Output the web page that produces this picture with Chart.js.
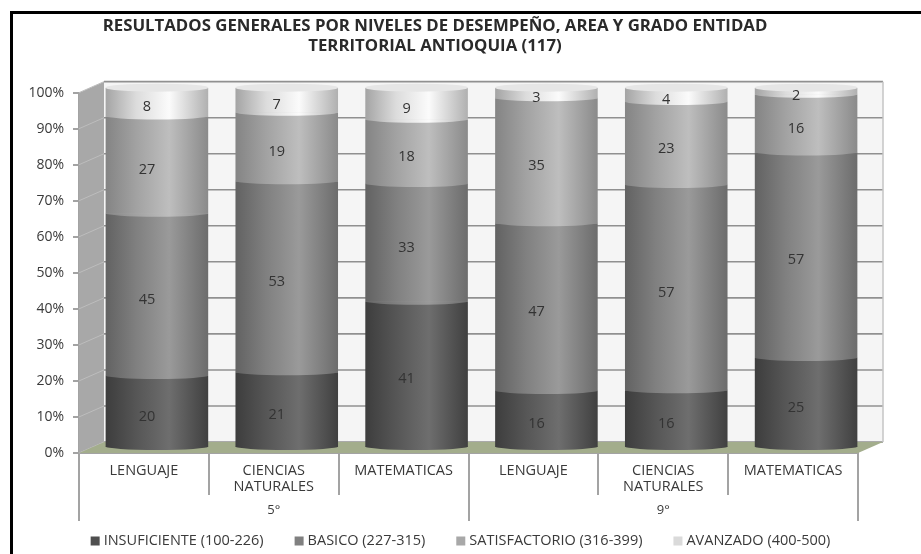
<!DOCTYPE html>
<html>
<head>
<meta charset="utf-8">
<title>Resultados generales</title>
<script src="https://cdn.jsdelivr.net/npm/chart.js@4"></script>
<style>
    html, body { margin: 0; padding: 0; background: #fff; }
    #wrap { width: 921px; height: 554px; position: relative; }
    canvas { filter: blur(0.6px); }
</style>
</head>
<body>
<div id="wrap"><canvas id="nivelesChart"></canvas></div>
<script>
// Data
const areas = ['LENGUAJE', ['CIENCIAS', 'NATURALES'], 'MATEMATICAS', 'LENGUAJE', ['CIENCIAS', 'NATURALES'], 'MATEMATICAS'];
const grados = ['5°', '9°'];
const insuficiente = [20, 21, 41, 16, 16, 25];
const basico = [45, 53, 33, 47, 57, 57];
const satisfactorio = [27, 19, 18, 35, 23, 16];
const avanzado = [8, 7, 9, 3, 4, 2];
const nombres = ['INSUFICIENTE (100-226)', 'BASICO (227-315)', 'SATISFACTORIO (316-399)', 'AVANZADO (400-500)'];
const tituloLineas = ['RESULTADOS GENERALES POR NIVELES DE DESEMPEÑO, AREA Y GRADO ENTIDAD', 'TERRITORIAL ANTIOQUIA (117)'];

const series = [insuficiente, basico, satisfactorio, avanzado];
const totals = areas.map((_, i) => series.reduce((sum, s) => sum + s[i], 0));

const FONT = '"Open Sans", Lato, sans-serif';
const TEXT = '#3a3a3a';
const AXIS = '#a3a3a3';

// Cylinder shading per series: edge, mid, highlight, edge
const shades = [
    ['#3d3d3d', '#565656', '#6e6e6e', '#404040'],
    ['#626262', '#808080', '#9a9a9a', '#6c6c6c'],
    ['#848484', '#a2a2a2', '#bebebe', '#8a8a8a'],
    ['#a4a4a4', '#dcdcdc', '#fbfbfb', '#b0b0b0']
];
const legendColors = ['#4f4f4f', '#808080', '#a8a8a8', '#dadada'];

// 3D look: how far the back wall sits from the front axes, and how far the bars sit from it
const DEPTH_X = 25, DEPTH_Y = -11;
const BAR_DX = 13, BAR_DY = -5;
const SAG = 3.5;

function cylinderGradient(chart, seriesIndex, dataIndex) {
    const x = chart.scales.x.getPixelForValue(dataIndex);
    const half = chart.scales.x.width / areas.length * 0.79 / 2;
    // first pass runs before the scales have a size
    if (!Number.isFinite(x) || !Number.isFinite(half)) return legendColors[seriesIndex];
    const g = chart.ctx.createLinearGradient(x - half, 0, x + half, 0);
    const c = shades[seriesIndex];
    g.addColorStop(0, c[0]);
    g.addColorStop(0.3, c[1]);
    g.addColorStop(0.62, c[2]);
    g.addColorStop(1, c[3]);
    return g;
}

const wallPlugin = {
    id: 'wall',
    beforeDatasetsDraw(chart) {
        const { ctx, chartArea: a, scales: { y } } = chart;
        ctx.save();
        // frame of the pasted picture
        ctx.fillStyle = '#000';
        ctx.fillRect(10, 11, chart.width - 10, 3);
        ctx.fillRect(10, 11, 3, chart.height - 11);
        // back wall
        ctx.fillStyle = '#f5f5f5';
        ctx.fillRect(a.left + DEPTH_X, a.top + DEPTH_Y, a.width, a.height);
        // side wall
        ctx.fillStyle = '#a8a8a8';
        ctx.beginPath();
        ctx.moveTo(a.left, a.top);
        ctx.lineTo(a.left + DEPTH_X, a.top + DEPTH_Y);
        ctx.lineTo(a.left + DEPTH_X, a.bottom + DEPTH_Y);
        ctx.lineTo(a.left, a.bottom);
        ctx.closePath();
        ctx.fill();
        // grid lines
        y.ticks.forEach(t => {
            const py = y.getPixelForValue(t.value);
            ctx.strokeStyle = '#bdbdbd';
            ctx.lineWidth = 1;
            ctx.beginPath();
            ctx.moveTo(a.left, py);
            ctx.lineTo(a.left + DEPTH_X, py + DEPTH_Y);
            ctx.stroke();
            ctx.strokeStyle = '#909090';
            ctx.lineWidth = 1.6;
            ctx.beginPath();
            ctx.moveTo(a.left + DEPTH_X, py + DEPTH_Y);
            ctx.lineTo(a.right + DEPTH_X, py + DEPTH_Y);
            ctx.stroke();
        });
        ctx.strokeStyle = '#c4c4c4';
        ctx.lineWidth = 1.5;
        ctx.beginPath();
        ctx.moveTo(a.right + DEPTH_X, a.top + DEPTH_Y);
        ctx.lineTo(a.right + DEPTH_X, a.bottom + DEPTH_Y);
        ctx.stroke();
        // floor
        ctx.fillStyle = '#a3ad8c';
        ctx.beginPath();
        ctx.moveTo(a.left, a.bottom);
        ctx.lineTo(a.left + DEPTH_X, a.bottom + DEPTH_Y);
        ctx.lineTo(a.right + DEPTH_X, a.bottom + DEPTH_Y);
        ctx.lineTo(a.right, a.bottom);
        ctx.closePath();
        ctx.fill();
        ctx.restore();
        // bars sit inside the box, so everything up to afterDatasetsDraw is shifted
        ctx.save();
        ctx.translate(BAR_DX, BAR_DY);
    },
    afterDatasetsDraw(chart) {
        const { ctx } = chart;
        // rounded lower edges, then the lid on the top series
        series.forEach((_, d) => {
            chart.getDatasetMeta(d).data.forEach(el => {
                ctx.fillStyle = el.options.backgroundColor;
                ctx.beginPath();
                ctx.ellipse(el.x, el.base - 0.5, el.width / 2, SAG, 0, 0, Math.PI);
                ctx.fill();
                if (d === series.length - 1) {
                    ctx.fillStyle = '#e6e6e6';
                    ctx.beginPath();
                    ctx.ellipse(el.x, el.y, el.width / 2, SAG + 0.5, 0, 0, Math.PI * 2);
                    ctx.fill();
                }
            });
        });
        ctx.restore();
        // value labels follow the axes, not the shifted bars
        ctx.save();
        ctx.font = '14.5px ' + FONT;
        ctx.fillStyle = '#333';
        ctx.textAlign = 'center';
        ctx.textBaseline = 'middle';
        series.forEach((values, d) => {
            chart.getDatasetMeta(d).data.forEach((el, i) => {
                ctx.fillText(values[i], el.x + 3, (el.y + el.base) / 2);
            });
        });
        ctx.restore();
    },
    afterDraw(chart) {
        // legend row, centred under the chart
        const { ctx } = chart;
        const gap = 31, box = 9, boxGap = 4, rowY = 541;
        ctx.save();
        ctx.font = '14.5px ' + FONT;
        ctx.textBaseline = 'middle';
        const widths = nombres.map(n => ctx.measureText(n).width + box + boxGap);
        let x = (chart.width - widths.reduce((s, w) => s + w, 0) - gap * (nombres.length - 1)) / 2;
        nombres.forEach((n, i) => {
            ctx.fillStyle = legendColors[i];
            ctx.fillRect(x, rowY - box / 2, box, box);
            ctx.fillStyle = TEXT;
            ctx.fillText(n, x + box + boxGap, rowY);
            x += widths[i] + gap;
        });
        ctx.restore();
    }
};

new Chart(document.getElementById('nivelesChart'), {
    type: 'bar',
    data: {
        labels: areas,
        datasets: series.map((values, s) => ({
            label: nombres[s],
            data: values.map((v, i) => v / totals[i] * 100),
            xAxisID: 'x',
            backgroundColor: c => c.dataIndex === undefined ? legendColors[s] : cylinderGradient(c.chart, s, c.dataIndex),
            borderWidth: 0,
            barPercentage: 0.79,
            categoryPercentage: 1
        }))
    },
    plugins: [wallPlugin],
    options: {
        responsive: true,
        maintainAspectRatio: false,
        animation: false,
        layout: { padding: { left: 12, top: 0, right: 63, bottom: 33 } },
        plugins: {
            legend: { display: false },
            tooltip: { enabled: false },
            title: {
                display: true,
                text: tituloLineas,
                color: '#2a2a2a',
                font: { family: FONT, size: 16.8, weight: 'bold', lineHeight: 1.15 },
                padding: { top: 17, bottom: 37 }
            }
        },
        scales: {
            y: {
                stacked: true,
                min: 0,
                max: 100,
                afterFit: s => { s.width = 67; },
                ticks: {
                    stepSize: 10,
                    padding: 9,
                    color: TEXT,
                    font: { family: FONT, size: 14 },
                    callback: v => v + '%'
                },
                border: { color: AXIS, width: 2 },
                grid: { drawOnChartArea: false, tickLength: 6, color: AXIS, lineWidth: 2 }
            },
            x: {
                stacked: true,
                afterFit: s => { s.height = 42; },
                ticks: {
                    padding: -32,
                    color: TEXT,
                    maxRotation: 0,
                    autoSkip: false,
                    font: { family: FONT, size: 14.5, lineHeight: 1.12 }
                },
                border: { color: AXIS, width: 2 },
                grid: { drawOnChartArea: false, offset: true, tickLength: 42, color: AXIS, lineWidth: 2 }
            },
            x2: {
                type: 'category',
                axis: 'x',
                position: 'bottom',
                labels: grados,
                afterFit: s => { s.height = 26; },
                ticks: {
                    padding: -19,
                    color: TEXT,
                    font: { family: FONT, size: 13 }
                },
                border: { display: false },
                grid: { drawOnChartArea: false, offset: true, tickLength: 26, color: AXIS, lineWidth: 2 }
            }
        }
    }
});
</script>
</body>
</html>
